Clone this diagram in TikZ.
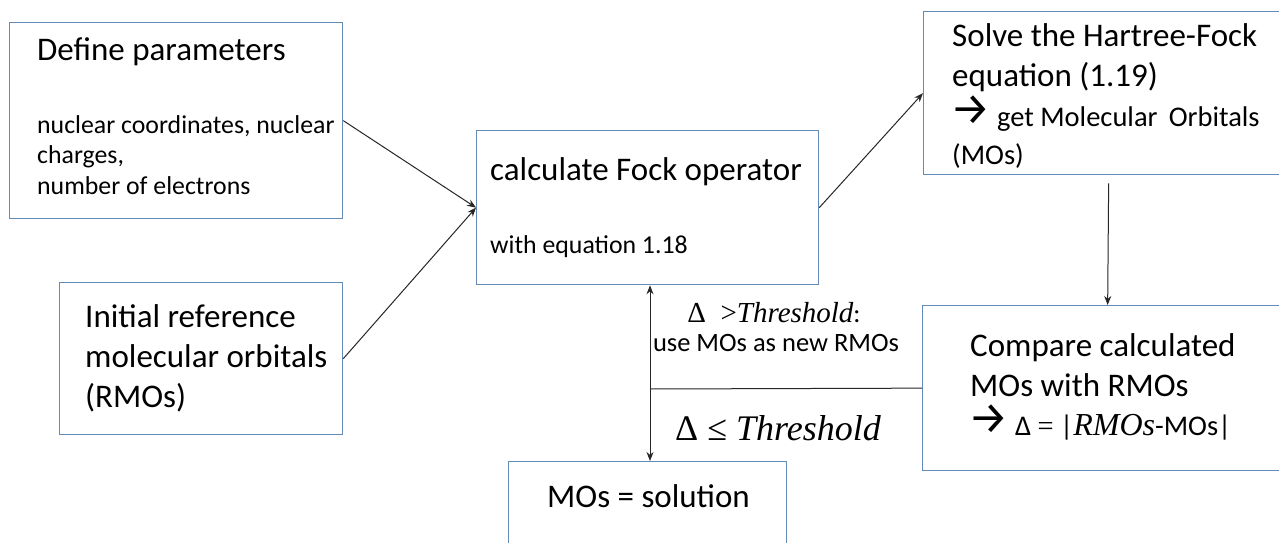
\documentclass[tikz,border=0pt]{standalone}
\usepackage{fontspec}
\setmainfont{Carlito}
\newfontfamily\arwfont{Fira Sans}
\newfontfamily\mfont{Liberation Serif}
\usetikzlibrary{arrows.meta}
\definecolor{boxblue}{RGB}{100,138,182}
\newcommand\bigarw{\raisebox{2pt}{\arwfont\fontsize{45}{40}\selectfont →}}
\tikzset{
  box/.style={draw=boxblue, line width=1.3pt, rectangle, inner sep=0pt, anchor=north west},
  big/.style={anchor=base west, inner sep=0pt, font=\fontsize{33}{40}\selectfont},
  mid/.style={anchor=base west, inner sep=0pt, font=\fontsize{28.5}{36}\selectfont},
  small/.style={anchor=base west, inner sep=0pt, font=\fontsize{25.8}{30}\selectfont},
  lbl/.style={anchor=base, inner sep=0pt, font=\fontsize{26.5}{30}\selectfont},
  flow/.style={-{Stealth[length=9pt,width=7pt]}, line width=1pt, black!85},
  plain/.style={line width=1pt, black!85}
}
\begin{document}
\begin{tikzpicture}[x=1pt,y=-1pt]
\useasboundingbox (0,0) rectangle (1279,543);
\clip (0,0) rectangle (1279,543);
% boxes
\node[box, minimum width=333pt, minimum height=196pt] (def) at (9,22) {};
\node[box, minimum width=283pt, minimum height=152pt] (ini) at (59,282) {};
\node[box, minimum width=342pt, minimum height=154pt] (fock) at (476,130) {};
\node[box, minimum width=370pt, minimum height=163pt] (solve) at (923,11) {};
\node[box, minimum width=370pt, minimum height=165pt] (cmp) at (922,305) {};
\node[box, minimum width=278pt, minimum height=110pt] (sol) at (508,461) {};
% texts
\node[big] (t1) at (37,60) {Define parameters};
\node[small] (t2) at (37,133) {nuclear coordinates, nuclear};
\node[small] (t3) at (37,163) {charges,};
\node[small] (t4) at (37,194) {number of electrons};
\node[big] (i1) at (85,327) {Initial reference};
\node[big] (i2) at (85,367) {molecular orbitals};
\node[big] (i3) at (85,407) {(RMOs)};
\node[big] (f1) at (490,180) {calculate Fock operator};
\node[small] (f2) at (490,253) {with equation 1.18};
\node[big] (s1) at (952,47) {Solve the Hartree-Fock};
\node[big] (s2) at (952,86.5) {equation (1.19)};
\node[mid] (s3) at (950,126) {\bigarw\ get Molecular\ \,Orbitals};
\node[mid] (s4) at (952,164) {(MOs)};
\node[big] (c1) at (970,356) {Compare calculated};
\node[big] (c2) at (970,396) {MOs with RMOs};
\node[mid] (c3) at (968,435) {\bigarw\ Δ {\mfont =} |{\mfont\itshape\fontsize{32}{36}\selectfont RMOs}-MOs|};
\node[big] (m1) at (547,507) {MOs = solution};
% labels
\node[lbl] (l1) at (774,322) {{\mfont\fontsize{29}{30}\selectfont Δ\ \ >\itshape Threshold}:};
\node[lbl] (l2) at (776,351) {use MOs as new RMOs};
\node[anchor=base west, inner sep=0pt, font=\fontsize{36}{40}\selectfont] (l3) at (675,440) {\mfont Δ ≤ \itshape Threshold};
% connectors
\draw[flow] (def.east) -- (fock.west);
\draw[flow] (ini.east) -- (fock.west);
\draw[flow] (fock.east) -- (solve.west);
\draw[flow] ([yshift=-8pt]solve.south) -- (cmp.north);
\coordinate (j) at (650,389);
\draw[plain] (cmp.west) -- (j);
\draw[flow] (j) -- (j |- fock.south);
\draw[flow] (j) -- (j |- sol.north);
\end{tikzpicture}
\end{document}
